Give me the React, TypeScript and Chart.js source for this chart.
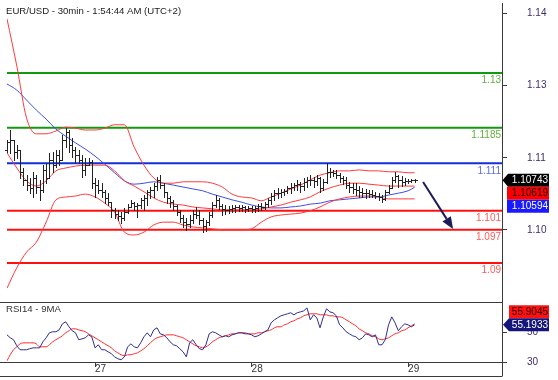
import React, { useEffect, useRef } from "react";
import { Chart, registerables } from "chart.js";

Chart.register(...registerables);

const FONT = '"Liberation Sans", Arial, Helvetica, sans-serif';

// ---------------- data ----------------
const chartTitle = "EUR/USD - 30min - 1:54:44 AM (UTC+2)";
const rsiTitle = "RSI14 - 9MA";

const xMin = 0;
const xMax = 151.8;
const dayTicks = [27, 75, 123];
const dayLabels = ["27", "28", "29"];

const priceMin = 1.08179;
const priceMax = 1.14474;
const priceTicks = [1.14263, 1.12733, 1.11211, 1.09695];
const priceTickLabels = ["1.14", "1.13", "1.11", "1.10"];

const rsiMin = 30;
const rsiMax = 70.7;
const rsiTicks = [50, 30];
const rsiTickLabels = ["50", "30"];

const levelValues = [1.13, 1.1185, 1.111, 1.101, 1.097, 1.09];
const levelLabels = ["1.13", "1.1185", "1.111", "1.101", "1.097", "1.09"];
const levelGroups = ["resistance", "resistance", "pivot", "support", "support", "support"];

const opens = [
  1.1138, 1.1155, 1.1159, 1.1134, 1.1138, 1.1092, 1.1075, 1.1064, 1.1058, 1.1079,
  1.1060, 1.1054, 1.1096, 1.1079, 1.1117, 1.1106, 1.1127, 1.1117, 1.1159, 1.1176,
  1.1148, 1.1138, 1.1127, 1.1117, 1.1096, 1.1106, 1.1113, 1.1068, 1.1064, 1.1054,
  1.1050, 1.1037, 1.1028, 1.1012, 1.1003, 1.0999, 1.0995, 1.1007, 1.1018, 1.1026,
  1.1020, 1.1022, 1.1033, 1.1037, 1.1050, 1.1054, 1.1062, 1.1075, 1.1064, 1.1050,
  1.1037, 1.1028, 1.1020, 1.1007, 1.0995, 1.0986, 1.0982, 1.0991, 1.1003, 1.1001,
  1.0991, 1.0978, 1.0986, 1.1001, 1.1022, 1.1033, 1.1020, 1.1014, 1.1012, 1.1014,
  1.1016, 1.1018, 1.1016, 1.1018, 1.1014, 1.1016, 1.1014, 1.1016, 1.1020, 1.1018,
  1.1024, 1.1033, 1.1041, 1.1047, 1.1047, 1.1050, 1.1052, 1.1058, 1.1060, 1.1064,
  1.1066, 1.1062, 1.1071, 1.1075, 1.1075, 1.1073, 1.1079, 1.1058, 1.1071, 1.1092,
  1.1092, 1.1090, 1.1085, 1.1079, 1.1075, 1.1064, 1.1060, 1.1056, 1.1054, 1.1050,
  1.1047, 1.1047, 1.1045, 1.1043, 1.1041, 1.1039, 1.1035, 1.1050, 1.1058, 1.1075,
  1.1083, 1.1075, 1.1071, 1.1073, 1.1073, 1.1075,
];
const highs = [
  1.1159, 1.1180, 1.1159, 1.1148, 1.1138, 1.1100, 1.1085, 1.1079, 1.1092, 1.1085,
  1.1075, 1.1106, 1.1111, 1.1132, 1.1134, 1.1138, 1.1138, 1.1170, 1.1184, 1.1180,
  1.1163, 1.1144, 1.1138, 1.1127, 1.1121, 1.1121, 1.1117, 1.1079, 1.1075, 1.1068,
  1.1054, 1.1047, 1.1028, 1.1016, 1.1012, 1.1007, 1.1016, 1.1024, 1.1033, 1.1028,
  1.1026, 1.1037, 1.1043, 1.1054, 1.1060, 1.1068, 1.1081, 1.1085, 1.1068, 1.1050,
  1.1041, 1.1033, 1.1022, 1.1012, 1.1001, 1.0995, 1.1001, 1.1012, 1.1018, 1.1012,
  1.0995, 1.0991, 1.1007, 1.1028, 1.1043, 1.1037, 1.1024, 1.1022, 1.1020, 1.1022,
  1.1022, 1.1022, 1.1022, 1.1020, 1.1020, 1.1020, 1.1020, 1.1024, 1.1026, 1.1028,
  1.1037, 1.1047, 1.1054, 1.1058, 1.1056, 1.1056, 1.1062, 1.1068, 1.1068, 1.1075,
  1.1071, 1.1079, 1.1081, 1.1085, 1.1081, 1.1085, 1.1081, 1.1077, 1.1111, 1.1100,
  1.1096, 1.1096, 1.1090, 1.1083, 1.1081, 1.1071, 1.1068, 1.1068, 1.1062, 1.1058,
  1.1056, 1.1054, 1.1054, 1.1050, 1.1047, 1.1043, 1.1054, 1.1064, 1.1081, 1.1092,
  1.1085, 1.1083, 1.1079, 1.1077, 1.1077, 1.1077,
];
const lows = [
  1.1134, 1.1132, 1.1117, 1.1121, 1.1079, 1.1064, 1.1054, 1.1047, 1.1039, 1.1047,
  1.1033, 1.1050, 1.1068, 1.1079, 1.1092, 1.1102, 1.1106, 1.1117, 1.1144, 1.1134,
  1.1123, 1.1113, 1.1111, 1.1081, 1.1085, 1.1106, 1.1058, 1.1039, 1.1047, 1.1039,
  1.1026, 1.1022, 1.0997, 1.0995, 1.0991, 1.0984, 1.0991, 1.1005, 1.1018, 1.1012,
  1.0997, 1.1016, 1.1012, 1.1022, 1.1037, 1.1039, 1.1054, 1.1058, 1.1039, 1.1026,
  1.1018, 1.1012, 1.1001, 1.0986, 1.0976, 1.0970, 1.0976, 1.0984, 1.0995, 1.0982,
  1.0965, 1.0967, 1.0980, 1.0997, 1.1018, 1.1014, 1.1001, 1.1003, 1.1005, 1.1007,
  1.1007, 1.1010, 1.1010, 1.1007, 1.1010, 1.1007, 1.1007, 1.1010, 1.1012, 1.1014,
  1.1018, 1.1024, 1.1033, 1.1037, 1.1039, 1.1043, 1.1047, 1.1047, 1.1054, 1.1054,
  1.1050, 1.1054, 1.1060, 1.1064, 1.1060, 1.1064, 1.1050, 1.1054, 1.1068, 1.1081,
  1.1083, 1.1079, 1.1071, 1.1066, 1.1058, 1.1050, 1.1047, 1.1043, 1.1039, 1.1039,
  1.1037, 1.1039, 1.1039, 1.1037, 1.1033, 1.1028, 1.1033, 1.1047, 1.1058, 1.1071,
  1.1060, 1.1062, 1.1064, 1.1068, 1.1071, 1.1071,
];
const closes = [
  1.1155, 1.1159, 1.1134, 1.1138, 1.1092, 1.1075, 1.1064, 1.1058, 1.1079, 1.1060,
  1.1054, 1.1096, 1.1079, 1.1117, 1.1106, 1.1127, 1.1117, 1.1159, 1.1176, 1.1148,
  1.1138, 1.1127, 1.1117, 1.1096, 1.1106, 1.1113, 1.1068, 1.1064, 1.1054, 1.1050,
  1.1037, 1.1028, 1.1012, 1.1003, 1.0999, 1.0995, 1.1007, 1.1018, 1.1026, 1.1020,
  1.1022, 1.1033, 1.1037, 1.1050, 1.1054, 1.1062, 1.1075, 1.1064, 1.1050, 1.1037,
  1.1028, 1.1020, 1.1007, 1.0995, 1.0986, 1.0982, 1.0991, 1.1003, 1.1001, 1.0991,
  1.0978, 1.0986, 1.1001, 1.1022, 1.1033, 1.1020, 1.1014, 1.1012, 1.1014, 1.1016,
  1.1018, 1.1016, 1.1018, 1.1014, 1.1016, 1.1014, 1.1016, 1.1020, 1.1018, 1.1024,
  1.1033, 1.1041, 1.1047, 1.1047, 1.1050, 1.1052, 1.1058, 1.1060, 1.1064, 1.1066,
  1.1062, 1.1071, 1.1075, 1.1075, 1.1073, 1.1079, 1.1058, 1.1071, 1.1092, 1.1092,
  1.1090, 1.1085, 1.1079, 1.1075, 1.1064, 1.1060, 1.1056, 1.1054, 1.1050, 1.1047,
  1.1047, 1.1045, 1.1043, 1.1041, 1.1039, 1.1035, 1.1050, 1.1058, 1.1075, 1.1083,
  1.1075, 1.1071, 1.1073, 1.1073, 1.1075, 1.10743,
];

const bandIdx = [
  0, 3, 6, 9, 12, 15, 18, 21, 24, 27, 30, 33, 36, 39, 42, 45, 48, 51, 54, 57, 60,
  63, 66, 69, 72, 75, 78, 81, 84, 87, 90, 93, 96, 99, 102, 105, 108, 111, 114,
  117, 120, 123, 125,
];
const bbUpper = [
  1.1414, 1.1315, 1.1205, 1.1172, 1.1172, 1.1178, 1.1186, 1.1184, 1.1180, 1.1180,
  1.1184, 1.1191, 1.1191, 1.1144, 1.1106, 1.1079, 1.1068, 1.1068, 1.1071, 1.1071,
  1.1071, 1.1068, 1.1060, 1.1045, 1.1039, 1.1037, 1.1031, 1.1039, 1.1047, 1.1056,
  1.1064, 1.1075, 1.1085, 1.1090, 1.1094, 1.1094, 1.1096, 1.1094, 1.1094, 1.1092,
  1.1092, 1.1090, 1.1090,
];
const bbMiddle = [
  1.1132, 1.1100, 1.1073, 1.1062, 1.1073, 1.1094, 1.1100, 1.1104, 1.1106, 1.1106,
  1.1106, 1.1094, 1.1073, 1.1062, 1.1050, 1.1037, 1.1028, 1.1024, 1.1022, 1.1018,
  1.1016, 1.1014, 1.1012, 1.1012, 1.1012, 1.1012, 1.1014, 1.1018, 1.1022, 1.1028,
  1.1033, 1.1039, 1.1050, 1.1058, 1.1064, 1.1068, 1.1068, 1.1066, 1.1064, 1.1062,
  1.1062, 1.1062, 1.10619,
];
const bbLower = [
  1.0847, 1.0890, 1.0923, 1.0944, 1.0986, 1.1033, 1.1039, 1.1041, 1.1045, 1.1039,
  1.1026, 1.1007, 1.0965, 1.0959, 1.0965, 1.0980, 1.0986, 1.0986, 1.0980, 1.0976,
  1.0974, 1.0972, 1.0970, 1.0970, 1.0970, 1.0972, 1.0986, 1.0997, 1.1001, 1.1003,
  1.1005, 1.1010, 1.1018, 1.1028, 1.1035, 1.1039, 1.1041, 1.1041, 1.1039, 1.1035,
  1.1035, 1.1035, 1.1035,
];
const maLine = [
  1.1277, 1.1264, 1.1243, 1.1222, 1.1203, 1.1182, 1.1167, 1.1153, 1.1140, 1.1125,
  1.1108, 1.1090, 1.1073, 1.1066, 1.1068, 1.1071, 1.1068, 1.1064, 1.1060, 1.1056,
  1.1052, 1.1045, 1.1039, 1.1033, 1.1028, 1.1022, 1.1018, 1.1016, 1.1016, 1.1018,
  1.1020, 1.1024, 1.1026, 1.1031, 1.1033, 1.1035, 1.1037, 1.1039, 1.1039, 1.1043,
  1.1047, 1.1052, 1.10594,
];

const rsi14 = [
  48.4, 46.4, 45.1, 41.0, 38.3, 38.3, 38.3, 39.0, 39.6, 39.6,
  39.6, 43.7, 46.4, 49.8, 50.5, 50.5, 51.8, 55.9, 57.3, 53.9,
  51.2, 49.8, 45.1, 45.7, 46.4, 48.4, 47.1, 39.6, 41.7, 38.3,
  38.3, 36.9, 35.6, 33.5, 32.2, 31.5, 33.5, 40.3, 42.3, 40.3,
  39.6, 43.0, 47.1, 49.8, 47.1, 51.8, 53.2, 49.1, 48.4, 46.4,
  43.7, 41.7, 41.0, 39.0, 36.9, 33.5, 43.0, 45.1, 41.7, 39.0,
  38.3, 41.7, 49.1, 50.5, 49.8, 48.4, 47.1, 47.8, 47.1, 48.4,
  49.1, 49.8, 49.8, 49.1, 49.1, 48.4, 47.1, 47.8, 49.1, 50.5,
  51.8, 56.6, 58.6, 60.0, 61.3, 62.0, 62.7, 63.4, 62.0, 63.4,
  64.0, 64.7, 66.7, 58.6, 62.0, 60.0, 53.2, 60.6, 66.1, 64.0,
  63.4, 61.3, 55.2, 53.2, 50.5, 49.1, 47.8, 47.1, 45.1, 46.4,
  49.1, 48.4, 47.1, 48.4, 41.7, 41.7, 45.1, 55.2, 60.6, 56.6,
  51.2, 53.9, 55.9, 55.2, 53.9, 55.1933,
];
const rsiMa9 = [
  30.8, 34.9, 38.3, 40.3, 42.3, 43.0, 43.0, 43.0, 43.0, 42.3,
  40.3, 40.3, 40.3, 41.7, 43.7, 45.1, 46.4, 47.8, 49.8, 51.2,
  52.5, 52.5, 51.8, 51.2, 50.5, 49.1, 47.8, 46.4, 45.1, 43.7,
  42.3, 41.0, 39.6, 37.6, 36.2, 34.9, 34.2, 34.9, 34.9, 35.6,
  36.2, 37.6, 39.0, 41.0, 43.0, 45.1, 46.4, 47.1, 47.8, 48.4,
  48.4, 48.4, 47.8, 47.1, 46.4, 45.1, 43.7, 42.3, 41.0, 40.3,
  39.6, 40.3, 41.7, 43.7, 45.1, 46.4, 47.1, 47.8, 48.4, 49.1,
  49.1, 49.8, 49.8, 49.8, 49.1, 49.1, 49.1, 49.8, 49.8, 50.5,
  51.2, 51.8, 53.2, 53.9, 53.9, 55.2, 55.9, 57.3, 57.9, 59.3,
  60.0, 61.3, 62.0, 62.7, 62.7, 62.7, 62.0, 62.0, 62.0, 61.3,
  61.3, 60.6, 60.6, 60.0, 58.6, 57.3, 55.9, 54.5, 52.5, 51.2,
  49.8, 49.1, 47.8, 47.1, 45.7, 45.1, 45.7, 46.4, 47.8, 49.1,
  49.8, 51.2, 51.8, 53.2, 54.5, 55.9045,
];

const arrowStart = [127.6, 1.10705];
const arrowEnd = [136.8, 1.09716];

// ---------------- styles ----------------
const levelStyle: any = {
  resistance: { line: "#109a10", text: "#62ae3c" },
  pivot: { line: "#1230d8", text: "#5a6ee6" },
  support: { line: "#ff1010", text: "#ff5a5a" },
};
const axisTextColor = "#3e2d6e";
const frameColor = "#3a3a3a";

function noScalePadding(s: any) {
  s.paddingTop = 0;
  s.paddingBottom = 0;
  s.paddingLeft = 0;
  s.paddingRight = 0;
}

function drawTag(ctx: any, left: number, right: number, cy: number, h: number, fill: string, color: string, text: string, arrowX?: number) {
  const top = cy - h / 2;
  ctx.fillStyle = fill;
  ctx.beginPath();
  if (arrowX !== undefined) {
    ctx.moveTo(arrowX, cy);
    ctx.lineTo(left, top);
    ctx.lineTo(right, top);
    ctx.lineTo(right, top + h);
    ctx.lineTo(left, top + h);
    ctx.closePath();
  } else {
    ctx.rect(left, top, right - left, h);
  }
  ctx.fill();
  ctx.fillStyle = color;
  ctx.font = `10px ${FONT}`;
  ctx.textAlign = "right";
  ctx.textBaseline = "middle";
  ctx.fillText(text, right - 1, cy + 0.5);
}

const mainDecor = {
  id: "mainDecor",
  afterDatasetsDraw(chart: any) {
    const { ctx, chartArea: ca, scales } = chart;
    const x = scales.x;
    const y = scales.y;
    ctx.save();
    ctx.beginPath();
    ctx.rect(ca.left - 3, ca.top, ca.width + 3, ca.height);
    ctx.clip();
    ctx.fillStyle = "#222";
    for (let i = 0; i < closes.length; i++) {
      const rx = Math.round(x.getPixelForValue(i));
      const yh = Math.round(y.getPixelForValue(highs[i]));
      const yl = Math.round(y.getPixelForValue(lows[i]));
      const yo = Math.round(y.getPixelForValue(opens[i]));
      const yc = Math.round(y.getPixelForValue(closes[i]));
      ctx.fillRect(rx, yh, 1, Math.max(1, yl - yh + 1));
      ctx.fillRect(rx - 2, yo, 2, 1);
      ctx.fillRect(rx + 1, yc, 2, 1);
    }
    ctx.restore();
  },
  afterDraw(chart: any) {
    const { ctx, chartArea: ca, scales } = chart;
    const x = scales.x;
    const y = scales.y;
    ctx.save();
    ctx.font = `10px ${FONT}`;
    ctx.textAlign = "right";
    ctx.textBaseline = "middle";
    levelValues.forEach((v, k) => {
      ctx.fillStyle = levelStyle[levelGroups[k]].text;
      ctx.fillText(levelLabels[k], ca.right - 1, y.getPixelForValue(v) + 7.5);
    });
    ctx.font = `9.6px ${FONT}`;
    ctx.fillStyle = "#222";
    ctx.textAlign = "left";
    ctx.textBaseline = "alphabetic";
    ctx.fillText(chartTitle, 6, 14);
    const ax0 = x.getPixelForValue(arrowStart[0]);
    const ay0 = y.getPixelForValue(arrowStart[1]);
    const ax1 = x.getPixelForValue(arrowEnd[0]);
    const ay1 = y.getPixelForValue(arrowEnd[1]);
    const ang = Math.atan2(ay1 - ay0, ax1 - ax0);
    const headLen = 12;
    const headW = 5;
    const bx = ax1 - headLen * Math.cos(ang);
    const by = ay1 - headLen * Math.sin(ang);
    ctx.strokeStyle = "#1c1c5a";
    ctx.fillStyle = "#1c1c5a";
    ctx.lineWidth = 2;
    ctx.beginPath();
    ctx.moveTo(ax0, ay0);
    ctx.lineTo(bx, by);
    ctx.stroke();
    ctx.beginPath();
    ctx.moveTo(ax1, ay1);
    ctx.lineTo(bx + headW * Math.sin(ang), by - headW * Math.cos(ang));
    ctx.lineTo(bx - headW * Math.sin(ang), by + headW * Math.cos(ang));
    ctx.closePath();
    ctx.fill();
    const lastPrice = closes[closes.length - 1];
    const lastMid = bbMiddle[bbMiddle.length - 1];
    const lastMa = maLine[maLine.length - 1];
    const cy0 = y.getPixelForValue(lastPrice);
    const cy1 = Math.max(y.getPixelForValue(lastMid), cy0 + 13);
    const cy2 = Math.max(y.getPixelForValue(lastMa), cy1 + 13);
    drawTag(ctx, ca.right + 6, ca.right + 47, cy0, 13, "#000000", "#ffffff", lastPrice.toFixed(5), ca.right + 0.5);
    drawTag(ctx, ca.right + 5, ca.right + 47, cy1, 13, "#ff0000", "#1a0000", lastMid.toFixed(5));
    drawTag(ctx, ca.right + 5, ca.right + 47, cy2, 13, "#1a1aff", "#ffffff", lastMa.toFixed(5));
    ctx.restore();
  },
};

const rsiDecor = {
  id: "rsiDecor",
  afterDraw(chart: any) {
    const { ctx, chartArea: ca, scales } = chart;
    const y = scales.y;
    ctx.save();
    ctx.strokeStyle = frameColor;
    ctx.lineWidth = 1;
    ctx.beginPath();
    ctx.moveTo(0, Math.round(ca.top) + 0.5);
    ctx.lineTo(ca.right, Math.round(ca.top) + 0.5);
    ctx.moveTo(0, Math.round(ca.bottom) + 0.5);
    ctx.lineTo(ca.right + 4, Math.round(ca.bottom) + 0.5);
    ctx.moveTo(0, Math.round(ca.bottom) + 14.5);
    ctx.lineTo(ca.right, Math.round(ca.bottom) + 14.5);
    ctx.moveTo(Math.round(ca.right) + 0.5, ca.bottom);
    ctx.lineTo(Math.round(ca.right) + 0.5, ca.bottom + 14.5);
    ctx.stroke();
    ctx.font = `9.6px ${FONT}`;
    ctx.fillStyle = "#333";
    ctx.textAlign = "left";
    ctx.textBaseline = "alphabetic";
    ctx.fillText(rsiTitle, 6, ca.top + 9.7);
    const lastRsi = rsi14[rsi14.length - 1];
    const lastRsiMa = rsiMa9[rsiMa9.length - 1];
    const cyA = y.getPixelForValue(lastRsi);
    const cyB = Math.min(y.getPixelForValue(lastRsiMa), cyA - 13);
    drawTag(ctx, ca.right + 7, ca.right + 47, cyB, 13, "#ff1111", "#2a0000", lastRsiMa.toFixed(4));
    drawTag(ctx, ca.right + 7, ca.right + 47, cyA, 13, "#16167a", "#ffffff", lastRsi.toFixed(4), ca.right + 1);
    ctx.restore();
  },
};

function linePoints(idx: number[], vals: number[]) {
  return idx.map((i, k) => ({ x: i, y: vals[k] }));
}

export default function App() {
  const mainRef = useRef<HTMLCanvasElement>(null);
  const rsiRef = useRef<HTMLCanvasElement>(null);

  useEffect(() => {
    Chart.defaults.font.family = FONT;
    Chart.defaults.font.size = 10;
    const barIdx = closes.map((_, i) => i);

    const levelSets = levelValues.map((v, k) => ({
      data: [{ x: xMin, y: v }, { x: xMax, y: v }],
      borderColor: levelStyle[levelGroups[k]].line,
      borderWidth: 2,
      pointRadius: 0,
      order: 5,
    }));
    const bandStyle = { borderColor: "#ff3a3a", borderWidth: 1, pointRadius: 0, cubicInterpolationMode: "monotone", order: 2 };

    const main = new Chart(mainRef.current as any, {
      type: "line",
      data: {
        datasets: [
          ...levelSets,
          { data: linePoints(bandIdx, maLine), borderColor: "#3a4ee8", borderWidth: 1, pointRadius: 0, cubicInterpolationMode: "monotone", order: 3 },
          { data: linePoints(bandIdx, bbUpper), ...bandStyle },
          { data: linePoints(bandIdx, bbMiddle), ...bandStyle },
          { data: linePoints(bandIdx, bbLower), ...bandStyle },
        ] as any,
      },
      options: {
        responsive: false,
        animation: false,
        events: [],
        layout: { autoPadding: false, padding: { left: 7, top: 3, right: 0, bottom: 0 } },
        plugins: { legend: { display: false }, tooltip: { enabled: false } },
        scales: {
          x: { type: "linear", min: xMin, max: xMax, display: false },
          y: {
            type: "linear",
            position: "right",
            min: priceMin,
            max: priceMax,
            afterFit: (s: any) => { s.width = 56; noScalePadding(s); },
            afterBuildTicks: (s: any) => { s.ticks = priceTicks.map((v) => ({ value: v })); },
            ticks: {
              callback: (_v: any, i: number) => priceTickLabels[i],
              color: axisTextColor,
              font: { size: 10 },
              padding: 20,
              autoSkip: false,
            },
            grid: { drawOnChartArea: false, tickLength: 5, color: frameColor },
            border: { display: true, color: frameColor, width: 1 },
          },
        },
      } as any,
      plugins: [mainDecor],
    });

    const sub = new Chart(rsiRef.current as any, {
      type: "line",
      data: {
        datasets: [
          { data: linePoints(barIdx, rsi14), borderColor: "#2e2e92", borderWidth: 1, pointRadius: 0, tension: 0, order: 0 },
          { data: linePoints(barIdx, rsiMa9), borderColor: "#ff2a2a", borderWidth: 1, pointRadius: 0, cubicInterpolationMode: "monotone", order: 1 },
        ] as any,
      },
      options: {
        responsive: false,
        animation: false,
        events: [],
        layout: { autoPadding: false, padding: { left: 7, top: 6, right: 0, bottom: 4 } },
        plugins: { legend: { display: false }, tooltip: { enabled: false } },
        scales: {
          x: {
            type: "linear",
            min: xMin,
            max: xMax,
            afterFit: (s: any) => { s.height = 14; noScalePadding(s); },
            afterBuildTicks: (s: any) => { s.ticks = dayTicks.map((v) => ({ value: v })); },
            ticks: {
              callback: (_v: any, i: number) => dayLabels[i],
              align: "start",
              padding: -4,
              autoSkip: false,
              maxRotation: 0,
              minRotation: 0,
              color: "#333",
              font: { size: 10 },
            },
            grid: { drawOnChartArea: false, tickLength: 5, color: frameColor },
            border: { display: false },
          },
          y: {
            type: "linear",
            position: "right",
            min: rsiMin,
            max: rsiMax,
            afterFit: (s: any) => { s.width = 56; noScalePadding(s); },
            afterBuildTicks: (s: any) => { s.ticks = rsiTicks.map((v) => ({ value: v })); },
            ticks: {
              callback: (_v: any, i: number) => rsiTickLabels[i],
              color: axisTextColor,
              font: { size: 10 },
              padding: 20,
              autoSkip: false,
            },
            grid: { drawOnChartArea: false, tickLength: 5, color: frameColor },
            border: { display: true, color: frameColor, width: 1 },
          },
        },
      } as any,
      plugins: [rsiDecor],
    });

    return () => {
      main.destroy();
      sub.destroy();
    };
  }, []);

  return (
    <div style={{ position: "absolute", left: 0, top: 0, width: 558, height: 380, background: "#ffffff" }}>
      <canvas ref={mainRef} width={558} height={302} style={{ position: "absolute", left: 0, top: 0 }} />
      <canvas ref={rsiRef} width={558} height={84} style={{ position: "absolute", left: 0, top: 296 }} />
    </div>
  );
}
